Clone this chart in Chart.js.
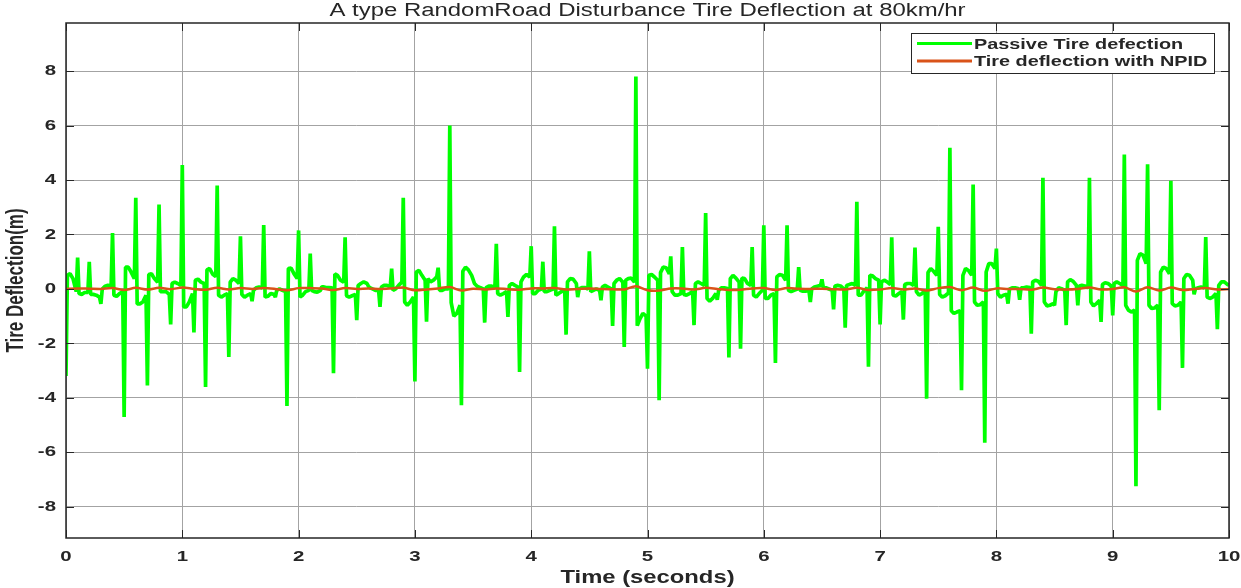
<!DOCTYPE html>
<html>
<head>
<meta charset="utf-8">
<title>Tire Deflection</title>
<script src="https://cdn.jsdelivr.net/npm/chart.js@4.4.1/dist/chart.umd.min.js"></script>
<style>
  html, body { margin: 0; padding: 0; background: #ffffff; }
  #wrap { width: 1241px; height: 588px; position: relative; }
</style>
</head>
<body>
<div id="wrap"><canvas id="deflectionChart"></canvas></div>
<script>
const chartTitle = "A type RandomRoad Disturbance Tire Deflection at 80km/hr";
const xAxisTitle = "Time (seconds)";
const yAxisTitle = "Tire Deflection(m)";
const seriesNames = ["Passive Tire defection", "Tire deflection with NPID"];

const xTicks = [0, 1, 2, 3, 4, 5, 6, 7, 8, 9, 10];
const yTicks = [-8, -6, -4, -2, 0, 2, 4, 6, 8];
const xRange = [0, 10];
const yRange = [-9.15, 9.77];

// the road hits the tire every 0.1 s; each bump is sampled at these offsets (s)
const bumpPeriod = 0.1;
const bumpOffsets = [0, 0.012, 0.035, 0.06, 0.088];

// passive tire deflection, five samples per bump, last value at t = 10 s
const passiveDeflection = [
  // 0 - 1 s
  -3.2, 0.5, 0.56, 0.38, -0.1,     1.15, -0.17, -0.2, -0.13, -0.13,
  1.0, -0.2, -0.2, -0.23, -0.3,    -0.55, 0.0, 0.1, 0.13, 0.1,
  2.05, -0.23, -0.27, -0.17, -0.1, -4.7, 0.8, 0.8, 0.62, 0.38,
  3.35, -0.55, -0.55, -0.48, -0.23, -3.55, 0.53, 0.56, 0.38, 0.25,
  3.1, -0.1, -0.1, -0.1, -0.2,     -1.3, 0.2, 0.25, 0.2, 0.13,
  // 1 - 2 s
  4.55, -0.66, -0.66, -0.48, -0.17, -1.6, 0.32, 0.36, 0.25, 0.2,
  -3.6, 0.7, 0.75, 0.55, 0.45,     3.8, -0.23, -0.3, -0.23, -0.17,
  -2.5, 0.25, 0.38, 0.32, 0.2,     1.93, -0.2, -0.3, -0.23, -0.17,
  -0.45, -0.05, 0.04, 0.07, 0.04,  2.35, -0.3, -0.27, -0.17, -0.2,
  -0.3, -0.05, 0.0, -0.05, -0.1,   -4.3, 0.75, 0.77, 0.56, 0.38,
  // 2 - 3 s
  2.15, -0.3, -0.23, -0.1, -0.05,  1.3, -0.05, -0.1, -0.12, -0.05,
  0.08, 0.08, 0.05, 0.05, 0.04,    -3.1, 0.55, 0.5, 0.32, 0.25,
  1.9, -0.25, -0.3, -0.25, -0.2,   -1.15, 0.13, 0.2, 0.26, 0.2,
  0.1, 0.05, 0.0, -0.05, -0.05,    -0.66, 0.07, 0.13, 0.13, 0.07,
  0.75, -0.05, 0.0, 0.13, 0.25,    3.35, -0.48, -0.6, -0.48, -0.3,
  // 3 - 4 s
  -3.4, 0.62, 0.68, 0.5, 0.32,     -1.2, 0.38, 0.26, 0.32, 0.45,
  0.78, -0.05, -0.05, 0.0, 0.0,    6.0, -0.5, -1.0, -0.9, -0.6,
  -4.27, 0.65, 0.8, 0.7, 0.5,      0.35, 0.2, 0.1, 0.05, 0.0,
  -1.24, 0.05, 0.1, 0.1, 0.05,     1.66, -0.17, -0.23, -0.17, -0.1,
  -1.03, 0.13, 0.2, 0.13, 0.07,    -3.05, 0.26, 0.44, 0.53, 0.44,
  // 4 - 5 s
  1.57, -0.17, -0.17, -0.05, 0.0,  1.0, -0.1, -0.1, -0.05, 0.0,
  2.3, -0.23, -0.17, -0.1, -0.05,  -1.68, 0.26, 0.38, 0.36, 0.2,
  -0.3, 0.0, 0.05, 0.05, 0.0,      1.38, -0.1, -0.05, 0.0, -0.05,
  -0.42, 0.07, 0.13, 0.07, 0.0,    -1.36, 0.2, 0.32, 0.38, 0.25,
  -2.13, 0.32, 0.38, 0.4, 0.25,    7.8, -1.35, -1.1, -0.9, -1.0,
  // 5 - 6 s
  -2.93, 0.5, 0.53, 0.44, 0.32,    -4.09, 0.6, 0.8, 0.78, 0.55,
  1.2, -0.1, -0.23, -0.23, -0.17,  1.54, -0.2, -0.23, -0.17, -0.1,
  -1.33, 0.2, 0.26, 0.2, 0.13,     2.79, -0.35, -0.45, -0.35, -0.17,
  -0.4, -0.05, 0.04, 0.04, 0.01,   -2.52, 0.38, 0.5, 0.4, 0.25,
  -2.2, 0.4, 0.38, 0.2, 0.13,      1.54, -0.23, -0.3, -0.17, -0.05,
  // 6 - 7 s
  2.34, -0.35, -0.35, -0.23, -0.17, -2.72, 0.44, 0.53, 0.5, 0.32,
  2.34, -0.05, -0.1, -0.05, 0.0,   0.8, -0.05, -0.08, -0.08, -0.05,
  -0.48, 0.0, 0.07, 0.1, 0.13,     0.35, 0.04, 0.04, 0.0, -0.05,
  -0.75, 0.11, 0.13, 0.11, 0.0,    -1.42, 0.13, 0.16, 0.2, 0.13,
  3.2, -0.23, -0.23, -0.08, 0.04,  -2.86, 0.5, 0.48, 0.38, 0.32,
  // 7 - 8 s
  -1.3, 0.26, 0.32, 0.26, 0.16,    1.9, -0.23, -0.26, -0.17, -0.1,
  -1.13, 0.16, 0.2, 0.2, 0.13,     1.52, -0.1, -0.23, -0.17, -0.05,
  -4.03, 0.6, 0.75, 0.65, 0.5,     2.28, -0.2, -0.3, -0.25, -0.15,
  5.19, -0.8, -0.9, -0.85, -0.8,   -3.72, 0.5, 0.75, 0.68, 0.5,
  3.84, -0.48, -0.6, -0.58, -0.48, -5.65, 0.62, 0.93, 0.93, 0.75,
  // 8 - 9 s
  1.48, -0.17, -0.3, -0.23, -0.2,  -0.54, -0.01, 0.04, 0.04, 0.01,
  -0.4, 0.04, 0.04, 0.07, 0.05,    -1.64, 0.26, 0.32, 0.28, 0.13,
  4.08, -0.48, -0.62, -0.6, -0.54, -0.6, -0.1, 0.04, 0.01, -0.05,
  -1.33, 0.26, 0.34, 0.28, 0.13,   -0.6, 0.11, 0.13, 0.11, 0.04,
  4.08, -0.48, -0.62, -0.54, -0.42, -1.21, 0.16, 0.23, 0.2, 0.11,
  // 9 - 10 s
  -0.97, 0.2, 0.26, 0.2, 0.13,     4.94, -0.6, -0.78, -0.85, -0.78,
  -7.25, 1.05, 1.3, 1.24, 0.93,    4.58, -0.6, -0.72, -0.7, -0.6,
  -4.46, 0.62, 0.8, 0.75, 0.56,    3.97, -0.54, -0.62, -0.6, -0.48,
  -2.9, 0.38, 0.53, 0.5, 0.32,     -0.2, 0.01, 0.04, 0.07, 0.04,
  1.91, -0.3, -0.35, -0.3, -0.17,  -1.48, 0.13, 0.26, 0.26, 0.16,
  0.15
];

// NPID-controlled deflection, one sample every 0.1 s from 0 to 10 s
const npidStep = 0.1;
const npidDeflection = [
  0.00, 0.02, 0.01, 0.00, 0.03, -0.04, 0.04, -0.02, 0.04, -0.01,
  0.05, 0.00, -0.03, 0.04, -0.02, 0.03, 0.00, 0.03, 0.00, -0.05,
  0.03, 0.03, 0.02, -0.04, 0.03, 0.00, 0.02, 0.00, 0.02, 0.05,
  -0.05, -0.02, 0.02, 0.07, -0.06, 0.01, -0.02, 0.02, -0.01, -0.03,
  0.02, 0.02, 0.03, -0.02, 0.00, 0.02, 0.00, -0.01, -0.02, 0.10,
  -0.05, -0.06, 0.02, 0.02, -0.02, 0.04, 0.00, -0.04, -0.03, 0.02,
  0.03, -0.04, 0.03, 0.01, 0.00, 0.01, -0.01, -0.02, 0.04, -0.04,
  -0.02, 0.03, -0.02, 0.02, -0.06, 0.03, 0.07, -0.05, 0.05, -0.07,
  0.02, 0.00, 0.00, -0.03, 0.05, -0.01, -0.02, 0.00, 0.05, -0.02,
  0.00, 0.06, -0.09, 0.06, -0.06, 0.05, -0.04, 0.00, 0.03, -0.02,
  0.00
];

const passiveColor = "#00ff00";
const npidColor = "#d95319";
const inkColor = "#262626";
const gridColor = "#a3a3a3";
const fontFamily = '"Liberation Sans", Arial, Helvetica, sans-serif';
// the figure's lettering is set wide
const textStretch = 1.36;

const passivePoints = passiveDeflection.map((v, i) => {
  const bump = Math.floor(i / bumpOffsets.length);
  const t = bump * bumpPeriod + bumpOffsets[i % bumpOffsets.length];
  return { x: +t.toFixed(3), y: v };
});
const npidPoints = npidDeflection.map((v, i) => ({ x: +(i * npidStep).toFixed(2), y: v }));

function wideText(ctx, text, x, y, font, align, baseline, angle) {
  ctx.save();
  ctx.translate(x, y);
  if (angle) {
    ctx.rotate(angle);
    ctx.scale(1, textStretch);
  } else {
    ctx.scale(textStretch, 1);
  }
  ctx.font = font;
  ctx.fillStyle = inkColor;
  ctx.textAlign = align;
  ctx.textBaseline = baseline;
  ctx.fillText(text, 0, 0);
  ctx.restore();
}

// axes box, inward ticks, labels, titles and the legend
const figureFrame = {
  id: "figureFrame",
  afterDraw(chart) {
    const { ctx, chartArea: a } = chart;
    const xs = chart.scales.x;
    const ys = chart.scales.y;
    const tickLen = 8;

    ctx.save();
    ctx.strokeStyle = inkColor;
    ctx.lineWidth = 1;
    ctx.beginPath();
    xTicks.forEach((v) => {
      const px = Math.round(xs.getPixelForValue(v)) + 0.5;
      ctx.moveTo(px, a.bottom); ctx.lineTo(px, a.bottom - tickLen);
      ctx.moveTo(px, a.top); ctx.lineTo(px, a.top + tickLen);
    });
    yTicks.forEach((v) => {
      const py = Math.round(ys.getPixelForValue(v)) + 0.5;
      ctx.moveTo(a.left, py); ctx.lineTo(a.left + tickLen, py);
      ctx.moveTo(a.right, py); ctx.lineTo(a.right - tickLen, py);
    });
    ctx.stroke();
    ctx.lineWidth = 1.5;
    ctx.strokeRect(a.left, a.top, a.right - a.left, a.bottom - a.top);
    ctx.restore();

    const tickFont = "bold 15px " + fontFamily;
    xTicks.forEach((v) => {
      wideText(ctx, String(v), xs.getPixelForValue(v), a.bottom + 19, tickFont, "center", "middle");
    });
    yTicks.forEach((v) => {
      wideText(ctx, String(v), a.left - 10, ys.getPixelForValue(v), tickFont, "right", "middle");
    });

    const midX = (a.left + a.right) / 2;
    const midY = (a.top + a.bottom) / 2;
    wideText(ctx, chartTitle, midX, 16, "17.6px " + fontFamily, "center", "alphabetic");
    wideText(ctx, xAxisTitle, midX, 578, "bold 17.5px " + fontFamily, "center", "middle");
    wideText(ctx, yAxisTitle, 17, midY, "bold 17px " + fontFamily, "center", "middle", -Math.PI / 2);

    // legend box in the upper right corner of the axes
    const box = { left: 911, top: 33, right: 1214, bottom: 73 };
    ctx.save();
    ctx.fillStyle = "#ffffff";
    ctx.fillRect(box.left, box.top, box.right - box.left, box.bottom - box.top);
    ctx.strokeStyle = inkColor;
    ctx.lineWidth = 1;
    ctx.strokeRect(box.left + 0.5, box.top + 0.5, box.right - box.left, box.bottom - box.top);
    const rows = [43.5, 61];
    chart.data.datasets.forEach((ds, i) => {
      ctx.strokeStyle = ds.borderColor;
      ctx.lineWidth = 3;
      ctx.beginPath();
      ctx.moveTo(917, rows[i]);
      ctx.lineTo(972, rows[i]);
      ctx.stroke();
    });
    ctx.restore();
    chart.data.datasets.forEach((ds, i) => {
      wideText(ctx, ds.label, 974, rows[i] + 5.3, "bold 14.6px " + fontFamily, "left", "alphabetic");
    });
  }
};

new Chart(document.getElementById("deflectionChart"), {
  type: "line",
  data: {
    datasets: [
      {
        label: seriesNames[0],
        data: passivePoints,
        borderColor: passiveColor,
        borderWidth: 3.7,
        borderJoinStyle: "bevel",
        pointRadius: 0,
        tension: 0,
        order: 1
      },
      {
        label: seriesNames[1],
        data: npidPoints,
        borderColor: npidColor,
        borderWidth: 2.5,
        pointRadius: 0,
        tension: 0.3,
        order: 0
      }
    ]
  },
  options: {
    responsive: true,
    maintainAspectRatio: false,
    animation: false,
    events: [],
    layout: { padding: { top: 23, right: 12, left: 0, bottom: 0 } },
    plugins: {
      legend: { display: false },
      tooltip: { enabled: false },
      title: { display: false }
    },
    scales: {
      x: {
        type: "linear",
        min: xRange[0],
        max: xRange[1],
        afterBuildTicks: (scale) => { scale.ticks = xTicks.map((v) => ({ value: v })); },
        afterFit: (scale) => { scale.height = 50; },
        grid: { color: gridColor, lineWidth: 1, drawTicks: false },
        border: { display: false },
        ticks: { display: false }
      },
      y: {
        type: "linear",
        min: yRange[0],
        max: yRange[1],
        afterBuildTicks: (scale) => { scale.ticks = yTicks.map((v) => ({ value: v })); },
        afterFit: (scale) => { scale.width = 66; },
        grid: { color: gridColor, lineWidth: 1, drawTicks: false },
        border: { display: false },
        ticks: { display: false }
      }
    }
  },
  plugins: [figureFrame]
});
</script>
</body>
</html>
